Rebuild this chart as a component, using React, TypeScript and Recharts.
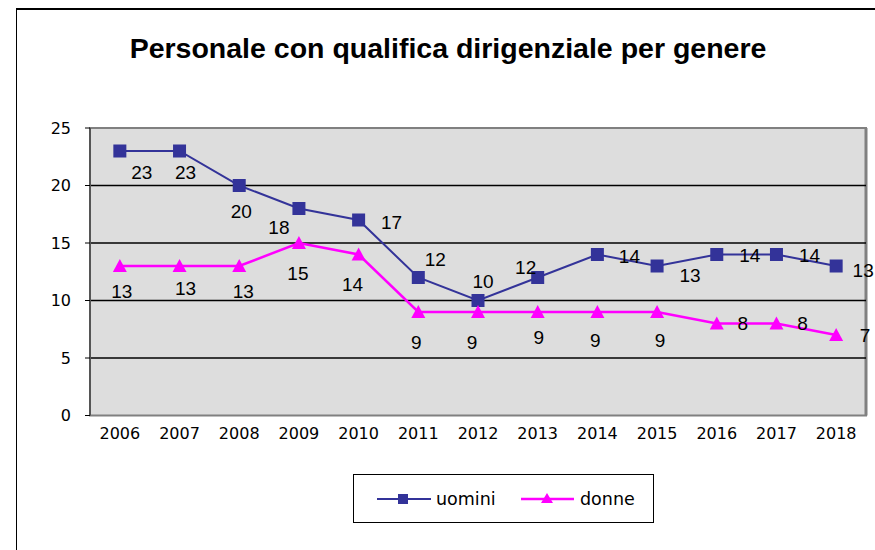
import React from "react";
import {
    LineChart,
    Line,
    XAxis,
    YAxis,
    ReferenceArea,
    ReferenceLine,
    Legend,
    LabelList,
} from "recharts";

const years = ["2006", "2007", "2008", "2009", "2010", "2011", "2012", "2013", "2014", "2015", "2016", "2017", "2018"];
const uomini = [23, 23, 20, 18, 17, 12, 10, 12, 14, 13, 14, 14, 13];
const donne = [13, 13, 13, 15, 14, 9, 9, 9, 9, 9, 8, 8, 7];
const yTicks = [0, 5, 10, 15, 20, 25];
const gridValues = [5, 10, 15, 20];

// where Excel dropped each data label, relative to its marker (px)
const uominiLabelOffset = [
    [22, 21], [6, 21], [2, 26], [-20, 19], [33, 2], [17, -18], [5, -19],
    [-12, -10], [32, 2], [33, 9], [33, 1], [33, 1], [27, 4],
];
const donneLabelOffset = [
    [2, 25], [6, 22], [4, 25], [-1, 30], [-6, 30], [-2, 30], [-6, 30],
    [1, 25], [-2, 28], [3, 28], [26, 0], [26, 0], [29, 0],
];

const BLUE = "#333399";
const PINK = "#FF00FF";

const data = years.map((year, i) => ({
    pos: i + 0.5,
    year,
    uomini: uomini[i],
    donne: donne[i],
}));

const bandTicks = years.map((_, i) => i);
bandTicks.push(years.length);
const labelTicks = years.map((_, i) => i + 0.5);

const labelFont = '"Liberation Sans", Arial, sans-serif';
const axisFont = '"DejaVu Sans", sans-serif';

function makeLabel(offsets: number[][]) {
    return (props: any) => {
        const { x, y, value, index } = props;
        const [dx, dy] = offsets[index] || [0, 0];
        return (
            <text
                key={`l-${index}`}
                x={x + dx}
                y={y + dy}
                textAnchor="middle"
                dominantBaseline="central"
                fontFamily={labelFont}
                fontSize={19}
                fill="#000"
            >
                {value}
            </text>
        );
    };
}

const squareDot = (props: any) => {
    const { cx, cy, index } = props;
    return <rect key={`s-${index}`} x={cx - 6.5} y={cy - 6.5} width={13} height={13} fill={BLUE} />;
};

const triangleDot = (props: any) => {
    const { cx, cy, index } = props;
    return (
        <polygon
            key={`t-${index}`}
            points={`${cx},${cy - 7} ${cx + 7},${cy + 6} ${cx - 7},${cy + 6}`}
            fill={PINK}
        />
    );
};

function LegendBox() {
    return (
        <div
            style={{
                width: 301,
                height: 49,
                boxSizing: "border-box",
                border: "1.5px solid #000",
                background: "#fff",
                position: "relative",
            }}
        >
            <svg width={301} height={49} style={{ position: "absolute", left: 0, top: 0 }}>
                <line x1={23} y1={24} x2={77} y2={24} stroke={BLUE} strokeWidth={2} />
                <rect x={44} y={19} width={10} height={10} fill={BLUE} />
                <line x1={167} y1={24} x2={220} y2={24} stroke={PINK} strokeWidth={2.5} />
                <polygon points="193,18 199,28 187,28" fill={PINK} />
                <text x={82} y={24} dominantBaseline="central" fontFamily={axisFont} fontSize={17.5}>
                    uomini
                </text>
                <text x={226} y={24} dominantBaseline="central" fontFamily={axisFont} fontSize={17.5}>
                    donne
                </text>
            </svg>
        </div>
    );
}

export default function App() {
    return (
        <div
            style={{
                position: "fixed",
                left: 0,
                top: 0,
                width: 875,
                height: 550,
                background: "#fff",
                overflow: "hidden",
            }}
        >
            <div
                style={{
                    position: "absolute",
                    left: 16,
                    top: 8,
                    right: 0,
                    bottom: 0,
                    borderTop: "2px solid #000",
                    borderLeft: "1px solid #000",
                }}
            />
            <div
                style={{
                    position: "absolute",
                    left: 8,
                    width: 880,
                    top: 33,
                    textAlign: "center",
                    fontFamily: labelFont,
                    fontWeight: "bold",
                    fontSize: 28.5,
                    lineHeight: "30px",
                    color: "#000",
                }}
            >
                Personale con qualifica dirigenziale per genere
            </div>
            <LineChart
                width={875}
                height={550}
                data={data}
                margin={{ top: 128, right: 9, left: 40, bottom: 104.5 }}
                style={{ position: "absolute", left: 0, top: 0 }}
            >
                <XAxis
                    xAxisId="t"
                    type="number"
                    dataKey="pos"
                    domain={[0, years.length]}
                    ticks={bandTicks}
                    tick={false}
                    tickSize={7}
                    tickLine={{ stroke: "#000", strokeWidth: 1 }}
                    axisLine={{ stroke: "#808080", strokeWidth: 2 }}
                    height={0}
                    allowDataOverflow
                />
                <XAxis
                    xAxisId="l"
                    type="number"
                    dataKey="pos"
                    domain={[0, years.length]}
                    ticks={labelTicks}
                    tickFormatter={(v: number) => years[Math.round(v - 0.5)]}
                    tick={{ fill: "#000", fontFamily: axisFont, fontSize: 16 }}
                    tickSize={0}
                    tickMargin={12}
                    tickLine={false}
                    axisLine={false}
                    height={30}
                    interval={0}
                    allowDataOverflow
                />
                <YAxis
                    type="number"
                    domain={[0, 25]}
                    ticks={yTicks}
                    width={50}
                    tickSize={5}
                    tickMargin={14}
                    tick={{ fill: "#000", fontFamily: axisFont, fontSize: 16 }}
                    tickLine={{ stroke: "#000" }}
                    axisLine={{ stroke: "#555", strokeWidth: 2 }}
                    interval={0}
                />
                <ReferenceArea
                    xAxisId="t"
                    x1={0}
                    x2={years.length}
                    y1={0}
                    y2={25}
                    fill="#DDDDDD"
                    fillOpacity={1}
                    stroke="#808080"
                    strokeWidth={2}
                />
                <ReferenceLine xAxisId="t" x={years.length} stroke="#808080" strokeWidth={3} />
                {gridValues.map((v) => (
                    <ReferenceLine key={v} xAxisId="t" y={v} stroke="#000" strokeWidth={1.5} />
                ))}
                <Legend
                    layout="vertical"
                    align="center"
                    verticalAlign="middle"
                    wrapperStyle={{ left: 353, top: 474, width: 301, height: 49 }}
                    content={() => <LegendBox />}
                />
                <Line
                    xAxisId="t"
                    type="linear"
                    dataKey="uomini"
                    stroke={BLUE}
                    strokeWidth={2}
                    dot={squareDot}
                    activeDot={false}
                    isAnimationActive={false}
                >
                    <LabelList dataKey="uomini" content={makeLabel(uominiLabelOffset)} />
                </Line>
                <Line
                    xAxisId="t"
                    type="linear"
                    dataKey="donne"
                    stroke={PINK}
                    strokeWidth={2.5}
                    dot={triangleDot}
                    activeDot={false}
                    isAnimationActive={false}
                >
                    <LabelList dataKey="donne" content={makeLabel(donneLabelOffset)} />
                </Line>
            </LineChart>
        </div>
    );
}
